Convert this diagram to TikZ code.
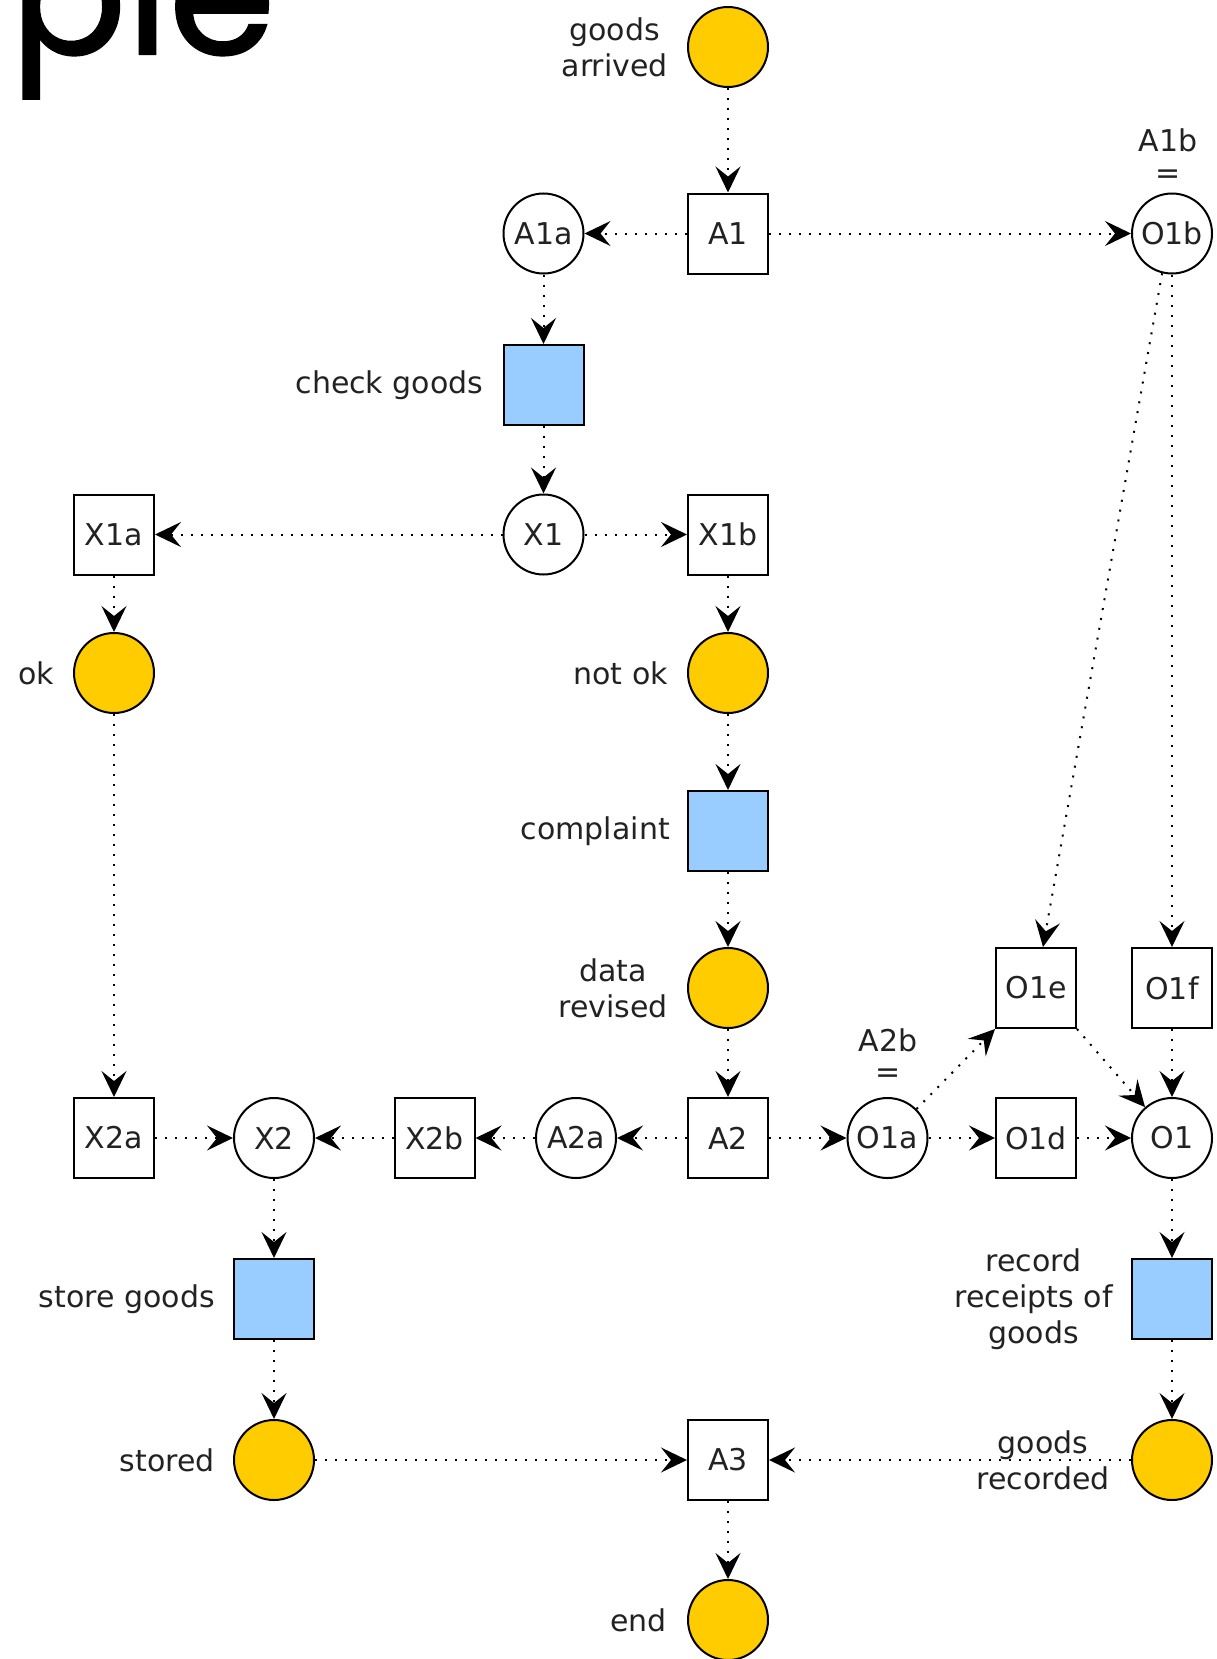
\documentclass[tikz,border=0pt]{standalone}
\usepackage{fontspec}
\setmainfont{DejaVu Sans}
\newfontfamily\titlefont{Poppins}[FakeBold=1.2]
\usetikzlibrary{arrows.meta,calc}
\definecolor{placefill}{HTML}{FFCC00}
\definecolor{taskfill}{HTML}{99CCFF}
\definecolor{txt}{HTML}{222222}
\begin{document}
\begin{tikzpicture}[x=1pt,y=-1pt,
  every node/.style={font=\fontsize{30}{36}\selectfont, text=txt},
  event/.style={circle, draw=black, line width=2pt, fill=placefill, minimum size=80pt, inner sep=0pt},
  conn/.style={circle, draw=black, line width=2pt, fill=white, minimum size=80pt, inner sep=0pt},
  task/.style={rectangle, draw=black, line width=2pt, fill=taskfill, minimum size=80pt, inner sep=0pt},
  gate/.style={rectangle, draw=black, line width=2pt, fill=white, minimum size=80pt, inner sep=0pt},
  lbl/.style={anchor=east, align=center, inner sep=0pt},
  flow/.style={draw=black, line width=2pt, dash pattern=on 2pt off 8pt, -{Stealth[length=26pt,width=25pt,inset=10pt]}},
]
\useasboundingbox (0,0) rectangle (1217,1659);
\clip (0,0) rectangle (1217,1659);

% title fragment
\node[anchor=base west, inner sep=0pt, font=\titlefont\fontsize{172}{172}\selectfont, text=black] (title) at (10,54) {ple};

% nodes
\node[event] (ga) at (728,47) {};
\node[lbl] (gaL) at ([xshift=-19pt]ga.west) {goods\\arrived};
\node[gate] (A1) at (728,233.5) {A1};
\node[conn] (A1a) at (543.5,233.5) {A1a};
\node[conn] (O1b) at (1172,233.5) {O1b};
\node (A1bL) at (1168,140) {A1b};
\node (A1bEq) at (1168,177) {=};
\node[task] (check) at (543.5,385) {};
\node[lbl] (checkL) at ([xshift=-19pt]check.west) {check goods};
\node[conn] (X1) at (543.5,534.5) {X1};
\node[gate] (X1a) at (114,534.5) {X1a};
\node[gate] (X1b) at (728,534.5) {X1b};
\node[event] (ok) at (114,673) {};
\node[lbl] (okL) at ([xshift=-19pt]ok.west) {ok};
\node[event] (nok) at (728,673) {};
\node[lbl] (nokL) at ([xshift=-19pt]nok.west) {not ok};
\node[task] (compl) at (728,831) {};
\node[lbl] (complL) at ([xshift=-17pt]compl.west) {complaint};
\node[event] (dr) at (728,988) {};
\node[lbl] (drL) at ([xshift=-19pt]dr.west) {data\\revised};
\node[gate] (O1e) at (1036,988) {O1e};
\node[gate] (O1f) at (1172,988) {O1f};
\node[gate] (A2) at (728,1138) {A2};
\node[conn] (A2a) at (576,1138) {A2a};
\node[gate] (X2b) at (434.5,1138) {X2b};
\node[conn] (X2) at (274,1138) {X2};
\node[gate] (X2a) at (114,1138) {X2a};
\node[conn] (O1a) at (887.5,1138) {O1a};
\node (A2bL) at (888,1040) {A2b};
\node (A2bEq) at (888,1076) {=};
\node[gate] (O1d) at (1036,1138) {O1d};
\node[conn] (O1) at (1172,1138) {O1};
\node[task] (rec) at (1172,1299) {};
\node[lbl] (recL) at ([xshift=-18pt]rec.west) {record\\receipts of\\goods};
\node[task] (store) at (274,1299) {};
\node[lbl] (storeL) at ([xshift=-18pt]store.west) {store goods};
\node[event] (stored) at (274,1460) {};
\node[lbl] (storedL) at ([xshift=-18pt]stored.west) {stored};
\node[event] (grec) at (1172,1460) {};
\node[lbl] (grecL) at ([xshift=-21pt]grec.west) {goods\\recorded};
\node[gate] (A3) at (728,1460) {A3};
\node[event] (end) at (728,1620) {};
\node[lbl] (endL) at ([xshift=-20pt]end.west) {end};

% connectors
\draw[flow] (ga) -- (A1);
\draw[flow] (A1) -- (A1a);
\draw[flow] (A1) -- (O1b);
\draw[flow] (A1a) -- (check);
\draw[flow] (check) -- (X1);
\draw[flow] (X1) -- (X1a);
\draw[flow] (X1) -- (X1b);
\draw[flow] (X1a) -- (ok);
\draw[flow] (X1b) -- (nok);
\draw[flow] (ok) -- (X2a);
\draw[flow] (nok) -- (compl);
\draw[flow] (compl) -- (dr);
\draw[flow] (dr) -- (A2);
\draw[flow] (A2) -- (A2a);
\draw[flow] (A2a) -- (X2b);
\draw[flow] (X2b) -- (X2);
\draw[flow] (X2a) -- (X2);
\draw[flow] (A2) -- (O1a);
\draw[flow] (O1a.45) -- (O1e.south west);
\draw[flow] (O1a) -- (O1d);
\draw[flow] (O1d) -- (O1);
\draw[flow] (O1e.south east) -- (O1);
\draw[flow] (O1f) -- (O1);
\draw[flow] (O1b.-104) -- ([xshift=7pt]O1e.north);
\draw[flow] (O1b) -- (O1f);
\draw[flow] (O1) -- (rec);
\draw[flow] (rec) -- (grec);
\draw[flow] (grec) -- (A3);
\draw[flow] (X2) -- (store);
\draw[flow] (store) -- (stored);
\draw[flow] (stored) -- (A3);
\draw[flow] (A3) -- (end);
\end{tikzpicture}
\end{document}
